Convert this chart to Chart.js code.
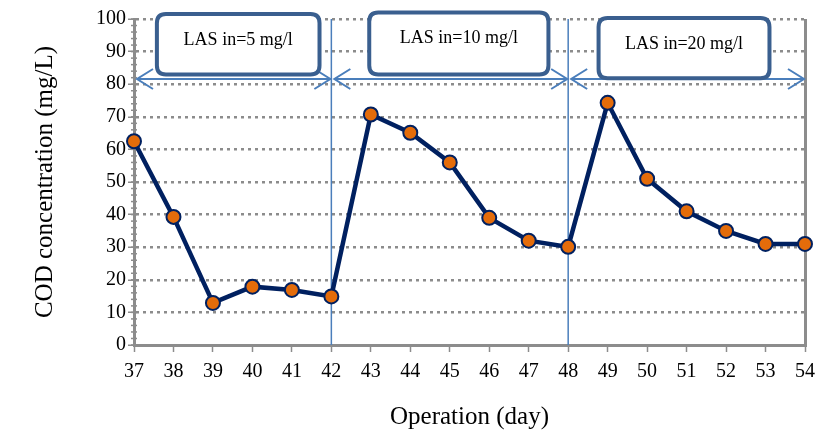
<!DOCTYPE html>
<html>
<head>
<meta charset="utf-8">
<script src="https://cdn.jsdelivr.net/npm/chart.js@4.4.0/dist/chart.umd.min.js"></script>
<style>
  html, body { margin: 0; padding: 0; background: #fff; }
  #wrap { width: 816px; height: 436px; }
</style>
</head>
<body>
<div id="wrap"><canvas id="codChart"></canvas></div>
<script>
// data
let days = [37, 38, 39, 40, 41, 42, 43, 44, 45, 46, 47, 48, 49, 50, 51, 52, 53, 54];
let codValues = [62.5, 39.3, 12.9, 17.9, 16.9, 14.9, 70.7, 65.1, 56, 39, 32, 30.1, 74.3, 51, 41, 35, 31, 31];
let phaseBreaks = [42, 48];
let phaseLabels = ['LAS in=5 mg/l', 'LAS in=10 mg/l', 'LAS in=20 mg/l'];

let gray = '#8c8c8c';
let blueLine = '#4a7ebb';
let boxBlue = '#3a5f8f';

// boxes in data units: [x1, x2, yTop, yBottom]
let boxes = [
    [37.58, 41.7, 101.5, 83],
    [42.96, 47.5, 102, 83],
    [48.77, 53.1, 100.3, 81.8]
];

function roundRect(ctx, x, y, w, h, r) {
    ctx.beginPath();
    ctx.moveTo(x + r, y);
    ctx.lineTo(x + w - r, y);
    ctx.quadraticCurveTo(x + w, y, x + w, y + r);
    ctx.lineTo(x + w, y + h - r);
    ctx.quadraticCurveTo(x + w, y + h, x + w - r, y + h);
    ctx.lineTo(x + r, y + h);
    ctx.quadraticCurveTo(x, y + h, x, y + h - r);
    ctx.lineTo(x, y + r);
    ctx.quadraticCurveTo(x, y, x + r, y);
    ctx.closePath();
}

function arrowHead(ctx, x, y, dir) {
    ctx.beginPath();
    ctx.moveTo(x - dir * 16, y - 10);
    ctx.lineTo(x, y);
    ctx.lineTo(x - dir * 16, y + 10);
    ctx.stroke();
}

let phasePlugin = {
    id: 'phases',
    beforeDatasetsDraw(chart) {
        let ctx = chart.ctx;
        let xs = chart.scales.x;
        let ys = chart.scales.y;
        ctx.save();
        // minor ticks on y axis
        ctx.strokeStyle = gray;
        ctx.lineWidth = 1.5;
        for (let v = 0; v <= 100; v += 2) {
            let py = ys.getPixelForValue(v);
            ctx.beginPath();
            ctx.moveTo(xs.left - 3, py);
            ctx.lineTo(xs.left + 3, py);
            ctx.stroke();
        }
        // vertical phase lines
        ctx.strokeStyle = blueLine;
        ctx.lineWidth = 1.5;
        phaseBreaks.forEach(d => {
            let px = xs.getPixelForValue(d);
            ctx.beginPath();
            ctx.moveTo(px, ys.getPixelForValue(100));
            ctx.lineTo(px, ys.getPixelForValue(0));
            ctx.stroke();
        });
        // double arrows
        let edges = [days[0]].concat(phaseBreaks, [days[days.length - 1]]);
        let ay = ys.getPixelForValue(81.6);
        ctx.lineWidth = 2;
        for (let i = 0; i < edges.length - 1; i++) {
            let x1 = xs.getPixelForValue(edges[i]) + 3;
            let x2 = xs.getPixelForValue(edges[i + 1]) - 1;
            ctx.beginPath();
            ctx.moveTo(x1, ay);
            ctx.lineTo(x2, ay);
            ctx.stroke();
            arrowHead(ctx, x1, ay, -1);
            arrowHead(ctx, x2, ay, 1);
        }
        // label boxes
        ctx.font = '18px "Liberation Serif"';
        ctx.textAlign = 'center';
        ctx.textBaseline = 'middle';
        boxes.forEach((b, i) => {
            let bx1 = xs.getPixelForValue(b[0]);
            let bx2 = xs.getPixelForValue(b[1]);
            let by1 = ys.getPixelForValue(b[2]);
            let by2 = ys.getPixelForValue(b[3]);
            roundRect(ctx, bx1, by1, bx2 - bx1, by2 - by1, 9);
            ctx.fillStyle = '#ffffff';
            ctx.fill();
            ctx.strokeStyle = boxBlue;
            ctx.lineWidth = 4;
            ctx.stroke();
            ctx.fillStyle = '#000';
            ctx.fillText(phaseLabels[i], (bx1 + bx2) / 2, by1 + 26);
        });
        ctx.restore();
    }
};

let ctxCod = document.getElementById('codChart').getContext('2d');

let codChart = new Chart(ctxCod, {
    type: 'line',
    data: {
        datasets: [{
            data: days.map((d, i) => ({ x: d, y: codValues[i] })),
            borderColor: '#002060',
            borderWidth: 4.5,
            backgroundColor: '#e46c0a',
            pointBackgroundColor: '#e46c0a',
            pointBorderColor: '#002060',
            pointBorderWidth: 2,
            pointRadius: 7,
            tension: 0,
            clip: false
        }]
    },
    options: {
        responsive: true,
        maintainAspectRatio: false,
        animation: false,
        layout: {
            padding: { top: 19, right: 0, left: 26, bottom: 0 }
        },
        plugins: {
            legend: { display: false },
            tooltip: { enabled: false }
        },
        scales: {
            x: {
                type: 'linear',
                min: 37,
                max: 54,
                afterFit: scale => { scale.paddingRight = 11; },
                grid: {
                    color: ctx => ctx.tick && ctx.tick.value === 54 ? gray : 'rgba(0,0,0,0)',
                    lineWidth: 3,
                    drawTicks: true,
                    tickLength: 7,
                    tickColor: gray,
                    tickWidth: 1.5
                },
                border: {
                    color: gray,
                    width: 3
                },
                ticks: {
                    stepSize: 1,
                    color: '#000',
                    padding: 8,
                    font: { family: 'Liberation Serif', size: 20 }
                },
                title: {
                    display: true,
                    text: 'Operation (day)',
                    color: '#000',
                    padding: { top: 10 },
                    font: { family: 'Liberation Serif', size: 25 }
                }
            },
            y: {
                min: 0,
                max: 100,
                grid: {
                    color: gray,
                    lineWidth: 2.5,
                    drawTicks: true,
                    tickLength: 6,
                    tickColor: gray,
                    tickWidth: 1.5
                },
                border: {
                    color: gray,
                    width: 3,
                    dash: [3, 4]
                },
                ticks: {
                    stepSize: 10,
                    color: '#000',
                    padding: 2,
                    font: { family: 'Liberation Serif', size: 20 }
                },
                title: {
                    display: true,
                    text: 'COD concentration (mg/L)',
                    color: '#000',
                    padding: { bottom: 34 },
                    font: { family: 'Liberation Serif', size: 25 }
                }
            }
        }
    },
    plugins: [phasePlugin]
});
</script>
</body>
</html>
